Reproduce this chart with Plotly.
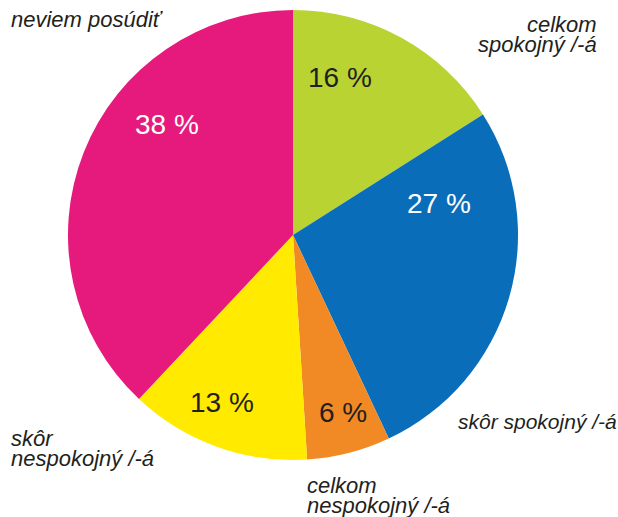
import plotly.graph_objects as go

W, H = 618, 517

categories = ["celkom spokojný /-á", "skôr spokojný /-á", "celkom nespokojný /-á",
              "skôr nespokojný /-á", "neviem posúdiť"]
values = [16, 27, 6, 13, 38]
colors = ["#B9D332", "#0A6DBA", "#F18A25", "#FFEA00", "#E6197C"]
pct_text_colors = ["#231F20", "#FFFFFF", "#231F20", "#231F20", "#FFFFFF"]

# label placements (pixel centers) for percent labels
pct_pos = [(340, 77), (439, 203), (343, 412), (222, 402), (167, 124)]

# outside category label lines: (text, x px, y px, anchor, size)
outside_lines = [
    ("neviem posúdiť", 9, 19, "left", 22),
    ("celkom", 599, 24, "right", 22),
    ("spokojný /-á", 599, 44, "right", 22),
    ("skôr spokojný /-á", 456, 421, "left", 21),
    ("celkom", 305, 485, "left", 22),
    ("nespokojný /-á", 305, 505, "left", 22),
    ("skôr", 9, 438, "left", 22),
    ("nespokojný /-á", 9, 458, "left", 22),
]

cx, cy, r = 293, 235, 225

fig = go.Figure(go.Pie(
    labels=categories,
    values=values,
    sort=False,
    direction="clockwise",
    rotation=0,
    marker=dict(colors=colors, line=dict(width=0)),
    textinfo="none",
    hoverinfo="label+percent",
    showlegend=False,
    domain=dict(x=[(cx - r) / W, (cx + r) / W], y=[1 - (cy + r) / H, 1 - (cy - r) / H]),
))

annotations = []
for v, (px, py), c in zip(values, pct_pos, pct_text_colors):
    annotations.append(dict(
        text=f"{v} %", x=px / W, y=1 - py / H, xref="paper", yref="paper",
        xanchor="center", yanchor="middle", showarrow=False,
        font=dict(family="Liberation Sans, Arial, sans-serif", size=28, color=c),
    ))
for t, px, py, anc, sz in outside_lines:
    annotations.append(dict(
        text=t, x=px / W, y=1 - py / H, xref="paper", yref="paper",
        xanchor=anc, yanchor="middle", showarrow=False,
        font=dict(family="Liberation Sans, Arial, sans-serif", size=sz,
                  color="#231F20", style="italic"),
    ))

fig.update_layout(
    width=W, height=H,
    margin=dict(l=0, r=0, t=0, b=0),
    paper_bgcolor="white",
    plot_bgcolor="white",
    annotations=annotations,
)

fig.write_html("out.html", config={"displayModeBar": False})

# remove the default page margin so the figure sits at the window's corner
with open("out.html", "r", encoding="utf-8") as f:
    html = f.read()
html = html.replace("<head>", "<head><style>html,body{margin:0;padding:0;overflow:hidden;}</style>", 1)
with open("out.html", "w", encoding="utf-8") as f:
    f.write(html)
